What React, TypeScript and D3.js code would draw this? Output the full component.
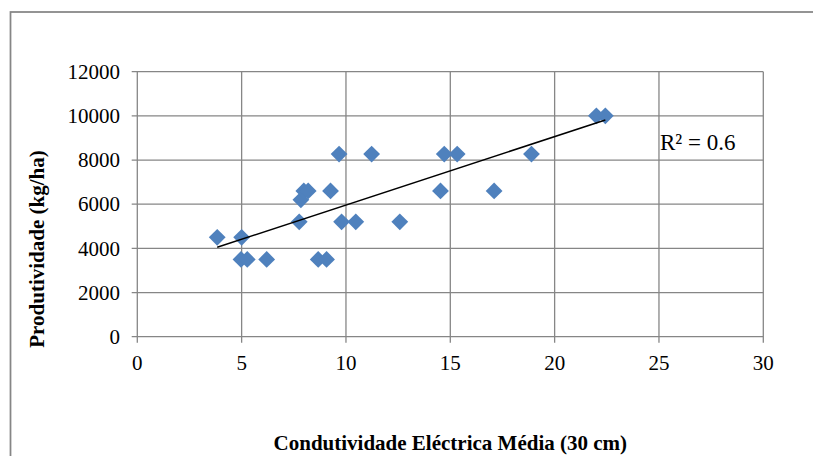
import React from "react";
import * as d3 from "d3";

const condutividade = [3.83, 5.0, 4.97, 5.27, 6.2, 7.76, 7.84, 7.98, 8.19, 8.67, 9.07, 9.26, 9.67, 9.79, 10.47, 11.23, 12.58, 14.53, 14.71, 15.33, 17.1, 18.89, 22.0, 22.43];
const produtividade = [4500, 4500, 3500, 3500, 3500, 5200, 6200, 6600, 6600, 3500, 3500, 6600, 8270, 5200, 5200, 8270, 5200, 6600, 8270, 8270, 6600, 8270, 10000, 10000];
const xTicks = [0, 5, 10, 15, 20, 25, 30];
const yTicks = [0, 2000, 4000, 6000, 8000, 10000, 12000];
const trendSlope = 310;
const trendIntercept = 2861;
const r2Label = "R² = 0.6";
const xTitle = "Condutividade Eléctrica Média (30 cm)";
const yTitle = "Produtividade (kg/ha)";

export default function App() {
  const W = 813, H = 456;
  const x = d3.scaleLinear().domain([0, 30]).range([137.3, 763.3]);
  const y = d3.scaleLinear().domain([0, 12000]).range([336.7, 71.7]);
  const grid = "#868686";
  const font = "'Liberation Serif', 'Times New Roman', serif";
  const xMin = d3.min(condutividade) as number;
  const xMax = d3.max(condutividade) as number;
  const line = d3.line<number>().x((d) => x(d)).y((d) => y(trendIntercept + trendSlope * d));
  const diamond = d3.symbol().type(d3.symbolDiamond2).size(180)();
  return (
    <svg width={W} height={H} style={{ position: "absolute", left: 0, top: 0, background: "#fff" }} fontFamily={font}>
      <rect x={0} y={0} width={W} height={H} fill="#fff" />
      <rect x={10.5} y={12} width={W + 20} height={H + 20} fill="none" stroke={grid} strokeWidth={1.75} />
      {yTicks.map((t) => (
        <g key={"y" + t}>
          <line x1={x(0) - 5.6} x2={x(30)} y1={y(t)} y2={y(t)} stroke={grid} strokeWidth={1.3} />
          <text x={120} y={y(t) + 7.2} textAnchor="end" fontSize={21} fill="#000">{t}</text>
        </g>
      ))}
      {xTicks.map((t) => (
        <g key={"x" + t}>
          <line x1={x(t)} x2={x(t)} y1={y(12000)} y2={y(0) + 6} stroke={grid} strokeWidth={1.3} />
          <text x={x(t)} y={369.5} textAnchor="middle" fontSize={21} fill="#000">{t}</text>
        </g>
      ))}
      {condutividade.map((c, i) => (
        <path key={"p" + i} d={diamond as string} transform={`translate(${x(c)},${y(produtividade[i])})`} fill="#4F81BD" />
      ))}
      <path d={line([xMin, xMax]) as string} stroke="#000" strokeWidth={1.5} fill="none" />
      <text x={660} y={150} fontSize={23} fill="#000">{r2Label}</text>
      <text x={(x(0) + x(30)) / 2} y={450} textAnchor="middle" fontSize={21} fontWeight="bold" fill="#000">{xTitle}</text>
      <text transform={`translate(44,249) rotate(-90)`} textAnchor="middle" fontSize={21} fontWeight="bold" fill="#000">{yTitle}</text>
    </svg>
  );
}
